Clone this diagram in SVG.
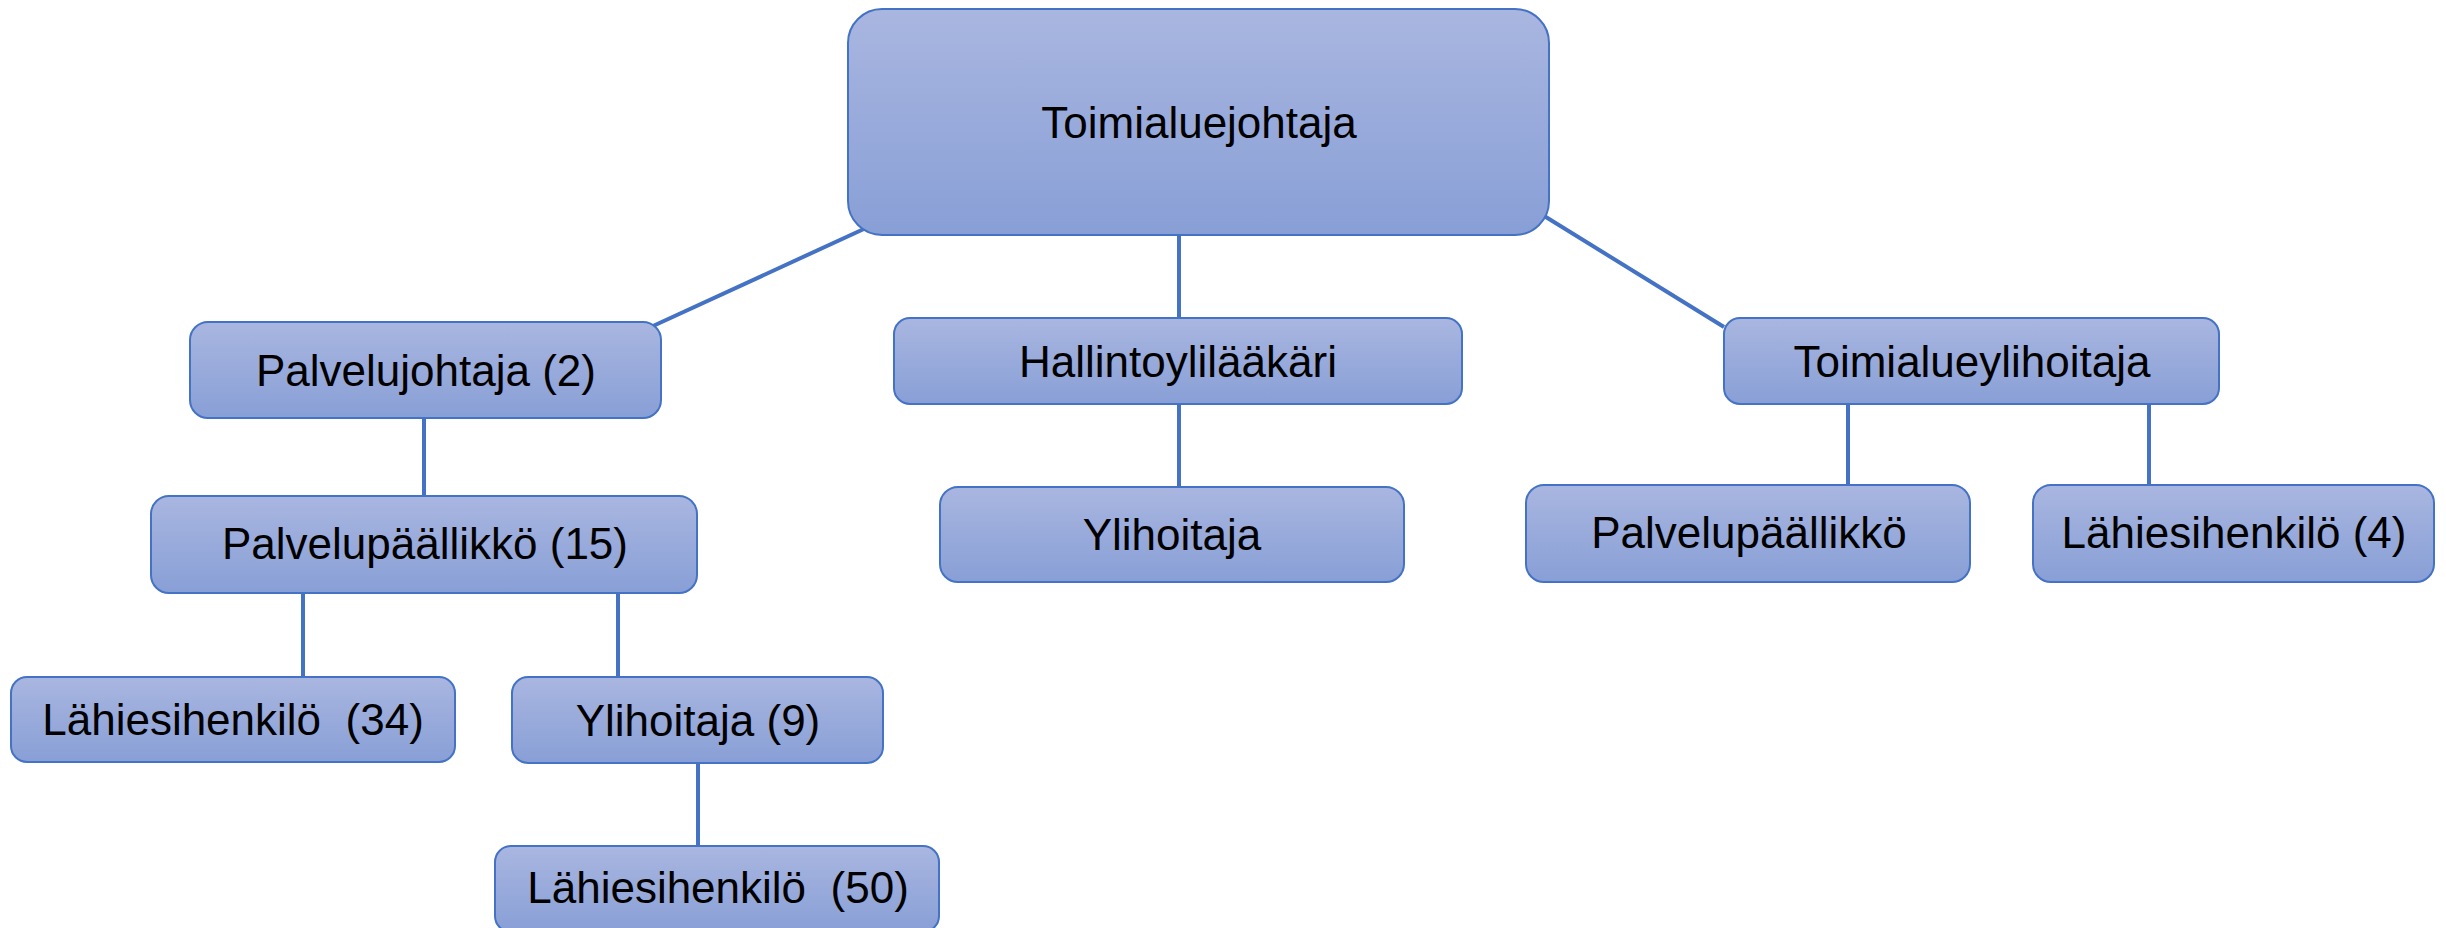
<svg xmlns="http://www.w3.org/2000/svg" width="2446" height="928" viewBox="0 0 2446 928">
<defs>
<linearGradient id="g" x1="0" y1="0" x2="0" y2="1">
<stop offset="0" stop-color="#a9b6e0"/>
<stop offset="1" stop-color="#889fd6"/>
</linearGradient>
<style>
.n rect{fill:url(#g);stroke:#4472c4;stroke-width:2}
.n text{font-family:"Liberation Sans",Arial,sans-serif;font-size:44px;fill:#000;text-anchor:middle}
#connectors line{stroke:#4472c4;stroke-width:4;fill:none}
</style>
</defs>
<rect width="2446" height="928" fill="#fff"/>
<g id="connectors">
<line x1="866" y1="228" x2="653" y2="326"/>
<line x1="1179" y1="235" x2="1179" y2="318"/>
<line x1="1541" y1="214" x2="1724" y2="327"/>
<line x1="424" y1="418" x2="424" y2="500"/>
<line x1="303" y1="593" x2="303" y2="677"/>
<line x1="618" y1="593" x2="618" y2="677"/>
<line x1="698" y1="763" x2="698" y2="846"/>
<line x1="1179" y1="404" x2="1179" y2="487"/>
<line x1="1848" y1="404" x2="1848" y2="485"/>
<line x1="2149" y1="404" x2="2149" y2="485"/>
</g>
<g id="toimialuejohtaja" class="n"><rect x="848" y="9" width="701" height="226" rx="34"/><text x="1199" y="138">Toimialuejohtaja</text></g>
<g id="palvelujohtaja" class="n"><rect x="190" y="322" width="471" height="96" rx="18"/><text x="426" y="386">Palvelujohtaja (2)</text></g>
<g id="palvelupaallikko15" class="n"><rect x="151" y="496" width="546" height="97" rx="18"/><text x="425" y="559">Palvelupäällikkö (15)</text></g>
<g id="lahiesihenkilo34" class="n"><rect x="11" y="677" width="444" height="85" rx="16"/><text x="233" y="735" xml:space="preserve">Lähiesihenkilö  (34)</text></g>
<g id="ylihoitaja9" class="n"><rect x="512" y="677" width="371" height="86" rx="16"/><text x="698" y="736">Ylihoitaja (9)</text></g>
<g id="lahiesihenkilo50" class="n"><rect x="495" y="846" width="444" height="86" rx="16"/><text x="718" y="903" xml:space="preserve">Lähiesihenkilö  (50)</text></g>
<g id="hallintoylilaakari" class="n"><rect x="894" y="318" width="568" height="86" rx="16"/><text x="1178" y="377">Hallintoylilääkäri</text></g>
<g id="ylihoitaja" class="n"><rect x="940" y="487" width="464" height="95" rx="18"/><text x="1172" y="550">Ylihoitaja</text></g>
<g id="toimialueylihoitaja" class="n"><rect x="1724" y="318" width="495" height="86" rx="16"/><text x="1972" y="377">Toimialueylihoitaja</text></g>
<g id="palvelupaallikko" class="n"><rect x="1526" y="485" width="444" height="97" rx="18"/><text x="1749" y="548">Palvelupäällikkö</text></g>
<g id="lahiesihenkilo4" class="n"><rect x="2033" y="485" width="401" height="97" rx="18"/><text x="2234" y="548">Lähiesihenkilö (4)</text></g>
</svg>
